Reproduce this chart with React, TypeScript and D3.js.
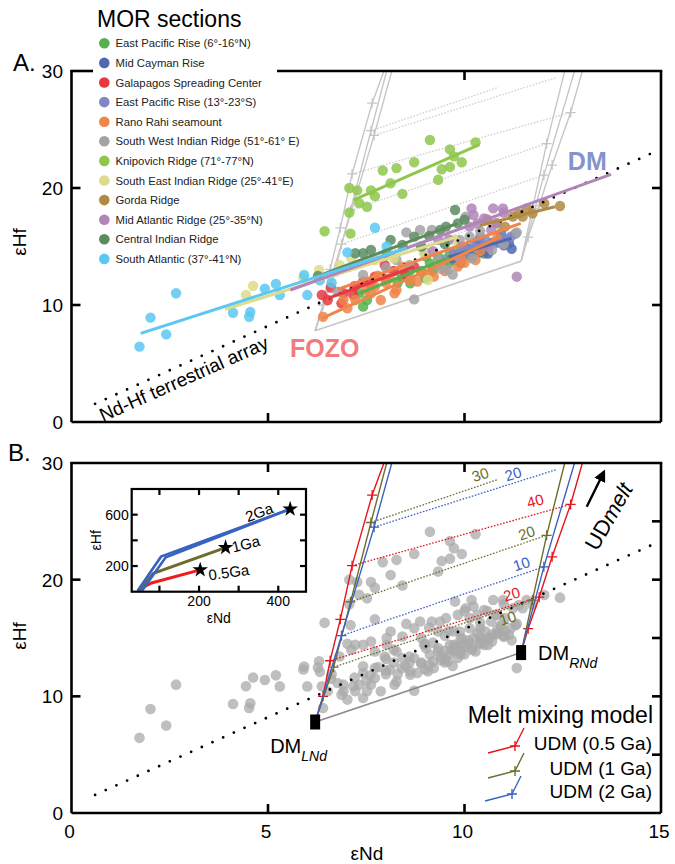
import React from 'react';
import * as d3 from 'd3';

type P = [number, number];

const FONT = '"Liberation Sans", Arial, Helvetica, sans-serif';

// ---- MOR sections (eNd, eHf) ----
const eprNorth: P[] = [[7.42,9.86],[7.52,10.43],[8.62,11.85],[9.02,14.13],[9.33,14.13],[9.63,14.42],[10.13,14.56],[8.02,14.42],[9.12,13.56],[9.73,13.85],[7.32,11.0],[8.9,12.9],[9.5,13.2],[8.4,12.4],[9.9,14.9],[10.4,15.0],[8.6,12.9],[9.2,13.0],[9.6,13.6],[10.0,14.2],[8.3,11.9],[9.0,12.3],[10.5,14.4]];
const midCayman: P[] = [[10.63,14.99],[10.83,15.41],[11.03,15.56],[11.13,15.27],[10.48,14.84],[10.18,14.13],[10.33,15.41],[10.93,15.98],[9.9,13.6],[10.7,15.3],[11.0,15.1],[10.4,14.5],[10.1,14.8],[10.6,14.4],[11.2,14.8],[9.7,14.0]];
const galapagos: P[] = [[6.37,10.86],[6.52,10.43],[6.87,10.14],[7.17,10.86],[7.42,12.0],[7.97,13.42],[7.72,12.42],[8.72,13.28],[6.92,11.0],[7.2,11.6],[8.2,12.9],[6.6,11.5],[7.6,11.8],[8.5,12.6],[8.0,12.2]];
const eprSouth: P[] = [[10.93,16.13],[11.18,15.84],[9.73,14.42],[10.23,14.99],[10.53,15.56],[10.0,14.5],[10.8,15.3],[11.3,16.1],[9.5,13.9],[10.4,15.8]];
const ranoRahi: P[] = [[6.40,9.0],[6.92,10.43],[7.22,10.43],[7.62,11.0],[7.87,10.43],[8.22,11.0],[8.27,11.28],[8.62,12.14],[9.22,12.42],[9.83,13.28],[10.28,13.85],[10.83,15.70],[7.02,9.72],[7.72,11.57],[8.42,13.28],[9.5,12.9],[10.0,13.6],[8.9,12.8],[7.5,11.3],[8.0,11.9],[8.8,12.0],[9.4,13.4],[9.9,13.9],[10.4,14.6],[8.1,12.3],[7.8,12.5],[9.1,12.7]];
const swir: P[] = [[8.52,16.21],[8.87,16.41],[9.17,16.41],[10.03,17.55],[11.33,16.21],[7.42,12.57],[8.27,13.85],[8.72,10.48],[6.77,11.14],[9.58,13.0],[9.88,15.56],[9.33,13.85],[10.13,15.84],[9.0,14.5],[9.8,14.2],[10.4,16.3],[8.0,13.2],[9.4,13.1],[10.2,14.0],[8.6,13.4],[9.7,12.6],[10.7,14.7],[11.0,15.2]];
const knipovich: P[] = [[9.12,24.1],[10.28,23.9],[9.63,23.3],[9.73,22.7],[9.93,22.2],[9.42,21.6],[9.63,21.8],[8.72,22.2],[8.27,21.7],[7.92,21.5],[8.12,20.4],[9.33,20.7],[7.07,20.0],[7.27,19.8],[7.62,19.8],[7.72,19.3],[8.42,19.5],[7.32,18.7],[7.52,18.4],[7.07,17.9],[6.44,16.3],[7.1,16.1]];
const seir: P[] = [[4.62,11.62],[4.44,10.86],[6.82,13.42],[7.12,13.99],[7.72,13.85],[9.07,12.14],[9.73,15.56],[8.97,14.42],[8.2,14.0],[6.3,13.0],[5.9,12.3]];
const gorda: P[] = [[10.58,17.32],[10.83,16.98],[11.23,17.55],[11.38,17.83],[11.58,18.26],[11.73,17.83],[12.03,18.69],[12.43,18.46],[11.03,16.70],[11.48,17.55]];
const mar: P[] = [[10.18,18.26],[10.23,17.69],[10.73,18.26],[10.98,18.26],[11.33,12.42],[10.68,16.41],[10.13,16.70],[9.33,15.56],[10.33,16.98],[9.93,14.99],[10.8,17.0],[11.0,17.9],[9.6,15.6],[10.5,17.4],[9.8,14.3],[10.6,15.0],[9.2,14.6]];
const cir: P[] = [[9.76,18.12],[9.83,16.98],[9.53,16.70],[9.38,16.41],[7.42,14.42],[7.62,14.70],[7.22,14.42],[6.27,12.48],[8.12,15.56],[8.72,15.84],[8.42,15.13],[9.1,15.9],[10.0,17.3],[8.9,15.0],[9.5,15.2]];
const southAtlantic: P[] = [[1.73,6.44],[2.01,8.92],[2.41,7.49],[2.66,11.0],[4.11,9.34],[4.52,9.0],[4.55,9.4],[4.92,11.4],[5.2,11.8],[5.3,10.85],[5.92,12.56],[6.0,10.85],[6.32,12.1],[6.62,11.9],[7.02,14.5],[7.72,16.6],[8.02,15.0]];

const sectionNames = [
  'East Pacific Rise (6°-16°N)', 'Mid Cayman Rise', 'Galapagos Spreading Center',
  'East Pacific Rise (13°-23°S)', 'Rano Rahi seamount', 'South West Indian Ridge (51°-61° E)',
  'Knipovich Ridge (71°-77°N)', 'South East Indian Ridge (25°-41°E)', 'Gorda Ridge',
  'Mid Atlantic Ridge (25°-35°N)', 'Central Indian Ridge', 'South Atlantic (37°-41°N)',
];
const sectionColors = ['#56b04f', '#4f68b2', '#e9373f', '#7e88c6', '#f08548', '#a3a3a3',
  '#8ec74c', '#dcdc8a', '#b08a42', '#b285b8', '#5b8c5e', '#5bc8f2'];
const sectionPoints = [eprNorth, midCayman, galapagos, eprSouth, ranoRahi, swir,
  knipovich, seir, gorda, mar, cir, southAtlantic];

// regression segments drawn in panel A
const fitSegments: P[][] = [
  [[7.32,11.0],[10.73,15.56]], [[9.6,14.1],[11.2,15.7]], [[6.52,10.57],[8.72,13.27]],
  [[9.7,14.5],[11.2,16.0]], [[6.37,8.86],[10.93,15.84]], [[6.77,11.34],[11.43,16.98]],
  [[7.17,18.97],[10.38,23.7]], [[3.91,9.63],[9.82,15.84]], [[10.4,16.8],[12.3,18.4]],
  [[5.57,11.28],[13.73,21.17]], [[6.22,12.4],[9.82,16.98]], [[1.76,7.58],[8.52,14.85]],
];
const fitColorIndex = [0, 1, 2, 3, 4, 4, 6, 7, 8, 9, 10, 11];

// Nd-Hf terrestrial array
const terrestrialArray: P[] = [[0.6, 1.55], [14.85, 23.1]];

// ---- melt mixing model ----
const dmL: P = [6.2, 7.8];
const dmR: P = [11.44, 13.75];
const leftRed: P[] = [dmL, [6.40,10.0],[6.58,13.05],[6.84,16.6],[7.14,21.2],[7.65,27.25],[7.95,30]];
const leftOlive: P[] = [dmL, [6.67,12.5],[7.10,18.1],[7.62,24.9],[8.02,30]];
const leftBlue: P[] = [dmL, [6.87,15.2],[7.70,24.5],[8.15,30]];
const rightRed: P[] = [dmR, [11.62,15.8],[11.90,18.5],[12.23,21.96],[12.70,26.45],[13.0,30]];
const rightOlive: P[] = [dmR, [11.73,18.25],[12.09,23.8],[12.55,30]];
const rightBlue: P[] = [dmR, [12.02,21.1],[12.8,30]];
const modelCurves = [leftRed, leftOlive, leftBlue, rightRed, rightOlive, rightBlue];

const RED = '#e8141c', OLIVE = '#6d6d2c', BLUE = '#3a62c2';
const modelColors = [RED, OLIVE, BLUE, RED, OLIVE, BLUE];

const tieFrom: P[] = [[6.67,12.5],[6.58,13.05],[6.87,15.2],[7.10,18.1],[7.14,21.2],[7.62,24.9],[7.70,24.5]];
const tieTo: P[] = [[11.73,18.25],[11.90,18.5],[12.02,21.1],[12.09,23.8],[12.70,26.45],[10.86,28.6],[12.35,29.45]];
const tieLabels = ['10', '20', '10', '20', '40', '30', '20'];
const tieLabelAt: P[] = [[11.1,16.7],[11.2,18.75],[11.45,21.35],[11.58,24.0],[11.8,26.75],[10.4,29.0],[11.24,29.05]];
const tieColors = [OLIVE, RED, BLUE, OLIVE, RED, OLIVE, BLUE];

const meltLegend = ['UDM (0.5 Ga)', 'UDM (1 Ga)', 'UDM (2 Ga)'];
const meltLegendColors = [RED, OLIVE, BLUE];

// ---- inset: eNd vs eHf of UDM ages ----
const insetBlueA: P[] = [[45,8],[104,273],[430,644]];
const insetBlueB: P[] = [[56,8],[116,268],[430,644]];
const insetOlive: P[] = [[48,8],[85,144],[267,344]];
const insetRed: P[] = [[45,5],[62,40],[80,68],[203,170]];
const insetStars: P[] = [[430,644],[267,344],[203,170]];
const insetStarLabels = ['2Ga', '1Ga', '0.5Ga'];
const insetLabelAt: P[] = [[352,618],[318,372],[275,150]];
const insetLabelAngle = [-20, -14, -8];

// ---- layout ----
const x = d3.scaleLinear().domain([0, 15]).range([71.5, 661]);
const yA = d3.scaleLinear().domain([0, 30]).range([422, 71]);
const yB = d3.scaleLinear().domain([0, 30]).range([813, 463]);
const ix = d3.scaleLinear().domain([30, 470]).range([131.7, 306]);
const iy = d3.scaleLinear().domain([0, 800]).range([591.7, 489]);

const TICK = 9;

function Frame({ y, gap, leftT, rightT, topT, botT }: any) {
  const [x0, x1] = x.range();
  const [y0, y1] = y.range();
  return (
    <g stroke="#000" strokeWidth={2.6} fill="none">
      <line x1={x0} y1={y0} x2={x1} y2={y0} />
      <line x1={x0} y1={y0} x2={x0} y2={y1} />
      <line x1={x1} y1={y0} x2={x1} y2={y1} />
      {gap ? (
        <>
          <line x1={x0 - 1.3} y1={y1} x2={gap[0]} y2={y1} />
          <line x1={gap[1]} y1={y1} x2={x1 + 1.3} y2={y1} />
        </>
      ) : <line x1={x0 - 1.3} y1={y1} x2={x1 + 1.3} y2={y1} />}
      {leftT.map((t: number) => <line key={'l' + t} x1={x0} x2={x0 + TICK} y1={y(t)} y2={y(t)} />)}
      {rightT.map((t: number) => <line key={'r' + t} x1={x1} x2={x1 - TICK} y1={y(t)} y2={y(t)} />)}
      {topT.map((t: number) => <line key={'t' + t} x1={x(t)} x2={x(t)} y1={y1} y2={y1 + TICK} />)}
      {botT.map((t: number) => <line key={'b' + t} x1={x(t)} x2={x(t)} y1={y0} y2={y0 - TICK} />)}
    </g>
  );
}

function YLabels({ y }: any) {
  return (
    <g fontSize={19} textAnchor="end" fontFamily={FONT}>
      {[0, 10, 20, 30].map((t) => (
        <text key={t} x={63} y={y(t)} dy="0.36em">{t}</text>
      ))}
    </g>
  );
}

function Model({ y, grey }: { y: any; grey: boolean }) {
  const line = d3.line<P>().x((d) => x(d[0])).y((d) => y(d[1]));
  const plus = 'M-5,0H5M0,-5V5';
  return (
    <g>
      {tieFrom.map((f, i) => (
        <line key={'tie' + i} x1={x(f[0])} y1={y(f[1])} x2={x(tieTo[i][0])} y2={y(tieTo[i][1])}
          stroke={grey ? '#cfcfcf' : tieColors[i]} strokeWidth={1.3} strokeDasharray="1.6,1.6" />
      ))}
      <line x1={x(dmL[0])} y1={y(dmL[1])} x2={x(dmR[0])} y2={y(dmR[1])}
        stroke={grey ? '#c6c6c6' : '#8a8a8a'} strokeWidth={1.6} />
      {modelCurves.map((c, i) => (
        <g key={'c' + i}>
          <path d={line(c) || ''} fill="none" stroke={grey ? '#c6c6c6' : modelColors[i]} strokeWidth={1.4} />
          {c.slice(1, -1).map((p, j) => (
            <path key={j} d={plus} transform={`translate(${x(p[0])},${y(p[1])})`}
              stroke={grey ? '#c6c6c6' : modelColors[i]} strokeWidth={1.3} fill="none" />
          ))}
        </g>
      ))}
      {!grey && tieLabels.map((t, i) => {
        const a = Math.atan2(y(tieTo[i][1]) - y(tieFrom[i][1]), x(tieTo[i][0]) - x(tieFrom[i][0])) * 180 / Math.PI;
        const px = x(tieLabelAt[i][0]), py = y(tieLabelAt[i][1]);
        return (
          <text key={'tl' + i} x={px} y={py} dy="0.35em" textAnchor="middle" fontSize={15}
            fill={tieColors[i]} fontFamily={FONT} transform={`rotate(${a},${px},${py})`}>{t}</text>
        );
      })}
    </g>
  );
}

function Dotted({ y }: any) {
  return (
    <line x1={x(terrestrialArray[0][0])} y1={y(terrestrialArray[0][1])}
      x2={x(terrestrialArray[1][0])} y2={y(terrestrialArray[1][1])}
      stroke="#000" strokeWidth={2.8} strokeLinecap="round" strokeDasharray="0,11.7" />
  );
}

function Inset() {
  const line = d3.line<P>().x((d) => ix(d[0])).y((d) => iy(d[1]));
  const star = d3.symbol(d3.symbolStar, 75)() || '';
  const [l, r] = ix.range();
  const [b, t] = iy.range();
  return (
    <g fontFamily={FONT}>
      <rect x={l} y={t} width={r - l} height={b - t} fill="#fff" />
      <path d={line(insetRed) || ''} fill="none" stroke="#ee1c1c" strokeWidth={3} />
      <path d={line(insetOlive) || ''} fill="none" stroke="#6d6d2c" strokeWidth={3} />
      <path d={line(insetBlueA) || ''} fill="none" stroke="#3a62c2" strokeWidth={2.6} />
      <path d={line(insetBlueB) || ''} fill="none" stroke="#3a62c2" strokeWidth={2.6} />
      {insetStars.map((s, i) => (
        <path key={i} d={star} transform={`translate(${ix(s[0])},${iy(s[1])})`} fill="#000" />
      ))}
      {insetStarLabels.map((s, i) => {
        const px = ix(insetLabelAt[i][0]), py = iy(insetLabelAt[i][1]);
        return (
          <text key={s} x={px} y={py} dy="0.35em" textAnchor="middle" fontSize={15}
            transform={`rotate(${insetLabelAngle[i]},${px},${py})`}>{s}</text>
        );
      })}
      <g stroke="#000" strokeWidth={2.2} fill="none">
        <rect x={l} y={t} width={r - l} height={b - t} />
        {[100, 200, 300, 400].map((v) => (
          <g key={v}>
            <line x1={ix(v)} x2={ix(v)} y1={t} y2={t + 6} />
            <line x1={ix(v)} x2={ix(v)} y1={b} y2={b - 6} />
          </g>
        ))}
        {[200, 400, 600].map((v) => (
          <g key={v}>
            <line x1={l} x2={l + 6} y1={iy(v)} y2={iy(v)} />
            <line x1={r} x2={r - 6} y1={iy(v)} y2={iy(v)} />
          </g>
        ))}
      </g>
      <g fontSize={14}>
        {[200, 400].map((v) => (
          <text key={v} x={ix(v)} y={b + 14} textAnchor="middle">{v}</text>
        ))}
        {[200, 600].map((v) => (
          <text key={v} x={l - 3} y={iy(v)} dy="0.36em" textAnchor="end">{v}</text>
        ))}
        <text x={(l + r) / 2} y={b + 31} textAnchor="middle">εNd</text>
        <text transform={`translate(${l - 31},${(t + b) / 2}) rotate(-90)`} textAnchor="middle">εHf</text>
      </g>
    </g>
  );
}

export default function App() {
  const fitLine = d3.line<P>().x((d) => x(d[0])).y((d) => yA(d[1]));
  const allPoints = sectionPoints.flat();
  const [ax0, ax1] = x.range();
  const legY = (i: number) => 43.3 + i * 19.6;
  const legendBaseline = [750, 775, 798];
  const [clipA1, clipA0] = [yA(30), yA(0)];
  const [clipB1, clipB0] = [yB(30), yB(0)];
  return (
    <div style={{ position: 'absolute', left: 0, top: 0 }}>
      <svg width={675} height={864} style={{ display: 'block', background: '#fff' }} fontFamily={FONT}>
        <defs>
          <clipPath id="clipA"><rect x={ax0} y={clipA1} width={ax1 - ax0} height={clipA0 - clipA1} /></clipPath>
          <clipPath id="clipB"><rect x={ax0} y={clipB1} width={ax1 - ax0} height={clipB0 - clipB1} /></clipPath>
        </defs>

        {/* ---------- Panel A ---------- */}
        <g clipPath="url(#clipA)">
          <Model y={yA} grey={true} />
        </g>
        {sectionPoints.map((pts, i) => (
          <g key={'s' + i} fill={sectionColors[i]} fillOpacity={0.85}>
            {pts.map((p, j) => <circle key={j} cx={x(p[0])} cy={yA(p[1])} r={5.2} />)}
          </g>
        ))}
        <Dotted y={yA} />
        {fitSegments.map((s, i) => (
          <path key={'f' + i} d={fitLine(s) || ''} stroke={sectionColors[fitColorIndex[i]]}
            strokeWidth={3} fill="none" />
        ))}
        <text x={x(5.56)} y={yA(5.56)} fontSize={25} fontWeight="bold" fill="#f27b7e">FOZO</text>
        <text x={x(12.63)} y={yA(21.54)} fontSize={25} fontWeight="bold" fill="#8393cc">DM</text>
        <text transform={`translate(103,422) rotate(-24)`} fontSize={19}>Nd-Hf terrestrial array</text>
        <Frame y={yA} gap={[93, 277]} leftT={[10, 20]} rightT={[10, 20]} topT={[10]} botT={[5, 10]} />
        <YLabels y={yA} />
        <text x={13} y={71} fontSize={24}>A.</text>
        <text transform={`translate(26,242) rotate(-90)`} textAnchor="middle" fontSize={19}>εHf</text>

        {/* legend */}
        <text x={97} y={27} fontSize={23}>MOR sections</text>
        {sectionNames.map((n, i) => (
          <g key={n}>
            <circle cx={104.3} cy={legY(i)} r={5.3} fill={sectionColors[i]} />
            <text x={115.5} y={legY(i)} dy="0.36em" fontSize={11.3} fill="#222">{n}</text>
          </g>
        ))}

        {/* ---------- Panel B ---------- */}
        <g fill="#a9a9a9" fillOpacity={0.75}>
          {allPoints.map((p, j) => <circle key={j} cx={x(p[0])} cy={yB(p[1])} r={5.3} />)}
        </g>
        <Dotted y={yB} />
        <g clipPath="url(#clipB)">
          <Model y={yB} grey={false} />
        </g>
        {[dmL, dmR].map((d, i) => (
          <rect key={i} x={x(d[0]) - 5} y={yB(d[1]) - 7.5} width={10} height={15} fill="#000" />
        ))}
        <text x={x(dmL[0]) - 45} y={yB(dmL[1]) + 31} fontSize={20}>DM<tspan fontSize={14} fontStyle="italic" dy={7.6}>LNd</tspan></text>
        <text x={x(dmR[0]) + 17} y={yB(dmR[1]) + 7.7} fontSize={20}>DM<tspan fontSize={14} fontStyle="italic" dy={7.6}>RNd</tspan></text>

        <Inset />

        {/* UDmelt arrow */}
        <defs>
          <marker id="arrow" viewBox="0 0 10 10" refX={8} refY={5} markerWidth={5} markerHeight={5} orient="auto">
            <path d="M0,0L10,5L0,10z" fill="#000" />
          </marker>
        </defs>
        <line x1={x(13.11)} y1={yB(26.25)} x2={x(13.55)} y2={yB(29.25)} stroke="#000" strokeWidth={2.4} markerEnd="url(#arrow)" />
        <text transform={`translate(597,552) rotate(-60)`} fontSize={22}>UD<tspan fontStyle="italic">melt</tspan></text>

        {/* melt legend */}
        <text x={653} y={723} fontSize={23} textAnchor="end">Melt mixing model</text>
        {meltLegend.map((m, i) => {
          const b = legendBaseline[i];
          const dx = i === 2 ? -3 : 0;
          return (
            <g key={m}>
              <path d={`M${488 + dx},${b + 3}L${515 + dx},${b - 4}L${524 + dx},${b - 22}`} fill="none"
                stroke={meltLegendColors[i]} strokeWidth={1.4} />
              <path d={`M${510 + dx},${b - 4}H${520 + dx}M${515 + dx},${b - 9}V${b + 1}`}
                stroke={meltLegendColors[i]} strokeWidth={1.4} />
              <text x={652} y={b} fontSize={19} textAnchor="end">{m}</text>
            </g>
          );
        })}

        <Frame y={yB} gap={null} leftT={[10, 20]} rightT={[5, 10, 15, 20, 25]} topT={[5, 10]} botT={[5, 10]} />
        <YLabels y={yB} />
        <g fontSize={19} textAnchor="middle">
          {[0, 5, 10, 15].map((t) => <text key={t} x={x(t) - 2} y={838}>{t}</text>)}
        </g>
        <text x={367} y={860} fontSize={19} textAnchor="middle">εNd</text>
        <text x={8} y={461} fontSize={24}>B.</text>
        <text transform={`translate(26,636) rotate(-90)`} textAnchor="middle" fontSize={19}>εHf</text>
      </svg>
    </div>
  );
}
